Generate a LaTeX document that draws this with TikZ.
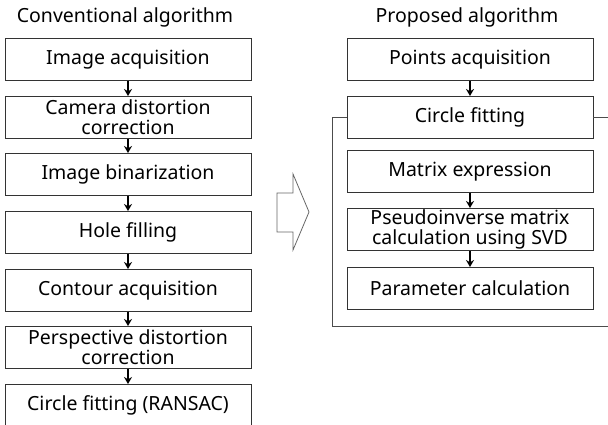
\documentclass[tikz,border=0pt]{standalone}
\usepackage{fontspec}
\setmainfont{Noto Sans}
\usetikzlibrary{arrows.meta,calc}
\begin{document}
\begin{tikzpicture}[x=1pt,y=-1pt,
  stepbox/.style={draw=black!80,line width=0.9pt,minimum width=246pt,minimum height=42pt,inner sep=0pt,align=center,font=\fontsize{19.5}{20}\selectfont,anchor=north},
  flow/.style={draw=black,line width=1.5pt,-{Stealth[length=7pt,width=8pt]}},
  ttl/.style={font=\fontsize{19.5}{20}\selectfont},
  frame/.style={draw=black!70,line width=0.9pt}]
\useasboundingbox (0,0) rectangle (608,425);
\clip (0,0) rectangle (608,425);
% titles
\node[ttl] (t1) at (125,17) {Conventional algorithm};
\node[ttl] (t2) at (467,17) {Proposed algorithm};
% left column
\node[stepbox] (a1) at (128,38) {Image acquisition};
\node[stepbox] (a2) at (128,96) {Camera distortion\\correction};
\node[stepbox] (a3) at (128,153) {Image binarization};
\node[stepbox] (a4) at (128,211) {Hole filling};
\node[stepbox] (a5) at (128,269) {Contour acquisition};
\node[stepbox] (a6) at (128,326) {Perspective distortion\\correction};
\node[stepbox] (a7) at (128,384) {Circle fitting (RANSAC)};
\foreach \p/\q in {a1/a2,a2/a3,a3/a4,a4/a5,a5/a6,a6/a7}
  \draw[flow] (\p) -- (\q);
% right column
\node[stepbox] (b1) at (470,38) {Points acquisition};
\node[stepbox] (b2) at (470,96) {Circle fitting};
\node[stepbox] (b3) at (470,150) {Matrix expression};
\node[stepbox] (b4) at (470,208) {Pseudoinverse matrix\\calculation using SVD};
\node[stepbox] (b5) at (470,267) {Parameter calculation};
\draw[flow] (b1) -- (b2);
\draw[flow] (b3) -- (b4);
\draw[flow] (b4) -- (b5);
% bracket frame
\coordinate (fl) at (332,326);
\coordinate (fr) at (609,326);
\draw[frame] (b2.west) -| (fl) -- (fr);
\coordinate (fe) at (609,0);
\draw[frame] (b2.east) -- (b2.east -| fe);
% block arrow
\draw[draw=black!60,line width=0.8pt] (277,193) coordinate (ba) -- (293,193) -- (293,174) -- (309,212) -- (293,250) -- (293,232) -- (277,232) -- cycle;
\end{tikzpicture}
\end{document}
